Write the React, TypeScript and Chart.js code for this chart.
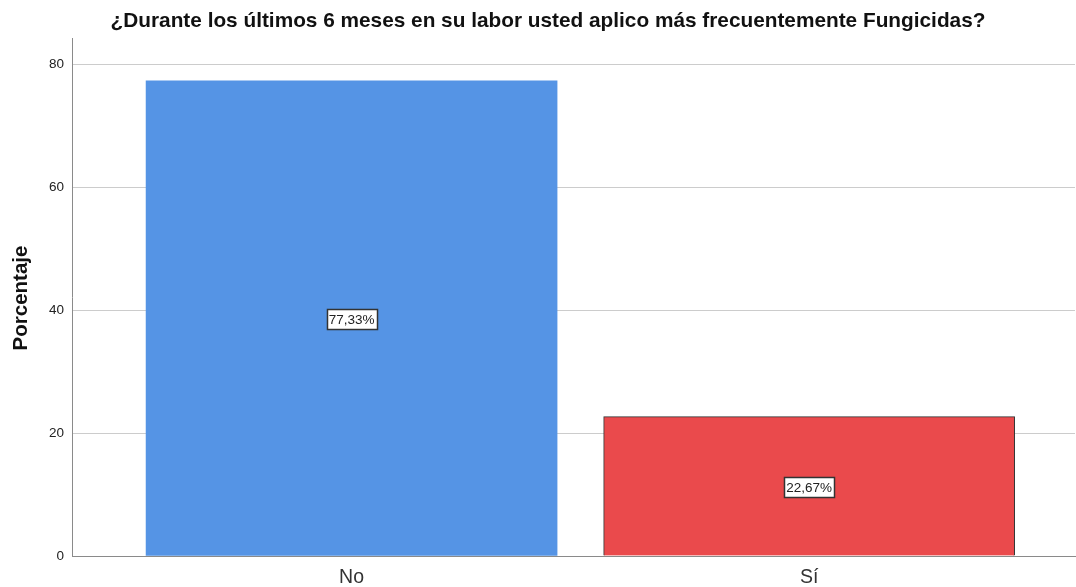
import React, { useEffect, useRef } from "react";
import { Chart, registerables } from "chart.js";

Chart.register(...registerables);

const chartTitle = "¿Durante los últimos 6 meses en su labor usted aplico más frecuentemente Fungicidas?";
const yAxisTitle = "Porcentaje";
const categories = ["No", "Sí"];
const percentages = [77.33, 22.67];
const yTicks = [0, 20, 40, 60, 80];
const barColors = ["#5594E5", "#EA4A4C"];
const barBorderColors = ["#5594E5", "#333333"];
const barBorderWidths = [0, 1];

const FONT = "'Liberation Sans', Arial, sans-serif";

const overlayPlugin = {
  id: "overlay",
  afterDatasetsDraw(chart: any) {
    const ctx = chart.ctx;
    const meta = chart.getDatasetMeta(0);
    ctx.save();
    ctx.font = `13.5px ${FONT}`;
    ctx.textAlign = "center";
    ctx.textBaseline = "middle";
    meta.data.forEach((bar: any, i: number) => {
      const text = percentages[i].toFixed(2).replace(".", ",") + "%";
      const cx = bar.x;
      const cy = (bar.y + bar.base) / 2 + 1;
      const w = ctx.measureText(text).width + 4;
      const h = 20;
      ctx.fillStyle = "#ffffff";
      ctx.fillRect(Math.round(cx - w / 2) + 0.5, Math.round(cy - h / 2) + 0.5, Math.round(w), h);
      ctx.strokeStyle = "#333333";
      ctx.lineWidth = 1.5;
      ctx.strokeRect(Math.round(cx - w / 2) + 0.5, Math.round(cy - h / 2) + 0.5, Math.round(w), h);
      ctx.fillStyle = "#222222";
      ctx.fillText(text, cx, cy + 1);
    });
    ctx.restore();
  },
  afterDraw(chart: any) {
    const ctx = chart.ctx;
    ctx.save();
    ctx.fillStyle = "#111111";
    ctx.font = `bold 20.8px ${FONT}`;
    ctx.textAlign = "center";
    ctx.textBaseline = "middle";
    ctx.fillText(chartTitle, 548, 21);
    ctx.translate(21, 298);
    ctx.rotate(-Math.PI / 2);
    ctx.font = `bold 20.5px ${FONT}`;
    ctx.fillText(yAxisTitle, 0, 0);
    ctx.restore();
  },
};

export default function App() {
  const canvasRef = useRef<HTMLCanvasElement | null>(null);

  useEffect(() => {
    if (!canvasRef.current) return;
    const chart = new Chart(canvasRef.current, {
      type: "bar",
      data: {
        datasets: [
          {
            data: categories.map((_, i) => ({ x: i, y: percentages[i] })) as any,
            backgroundColor: barColors,
            borderColor: barBorderColors,
            borderWidth: barBorderWidths,
            barThickness: 411,
          },
        ],
      },
      options: {
        responsive: false,
        animation: false,
        layout: { padding: { top: 38, right: 1, left: 0, bottom: 0 } },
        plugins: {
          legend: { display: false },
          tooltip: { enabled: false },
          title: { display: false },
        },
        scales: {
          x: {
            type: "linear",
            offset: false,
            min: -0.611,
            max: 1.581,
            afterBuildTicks: (scale: any) => {
              scale.ticks = categories.map((_, i) => ({ value: i }));
            },
            afterFit: (scale: any) => {
              scale.height = 31;
            },
            ticks: {
              autoSkip: false,
              maxRotation: 0,
              padding: 10,
              color: "#333333",
              font: { family: FONT, size: 19.5 },
              callback: (v: any) => categories[v] ?? "",
            },
            grid: { display: true, color: "transparent", drawTicks: false },
            border: { display: true, color: "#8a8a8a", width: 1 },
          },
          y: {
            type: "linear",
            min: 0,
            max: 84.3,
            afterBuildTicks: (scale: any) => {
              scale.ticks = yTicks.map((v) => ({ value: v }));
            },
            afterFit: (scale: any) => {
              scale.width = 72;
            },
            ticks: {
              padding: 8,
              color: "#222222",
              font: { family: FONT, size: 13.5 },
            },
            grid: { color: "#cccccc", lineWidth: 1, drawTicks: false },
            border: { display: true, color: "#8a8a8a", width: 1 },
          },
        },
      },
      plugins: [overlayPlugin],
    });
    return () => chart.destroy();
  }, []);

  return (
    <canvas
      ref={canvasRef}
      width={1076}
      height={587}
      style={{ position: "absolute", left: 0, top: 0, width: 1076, height: 587, background: "#ffffff" }}
    />
  );
}
